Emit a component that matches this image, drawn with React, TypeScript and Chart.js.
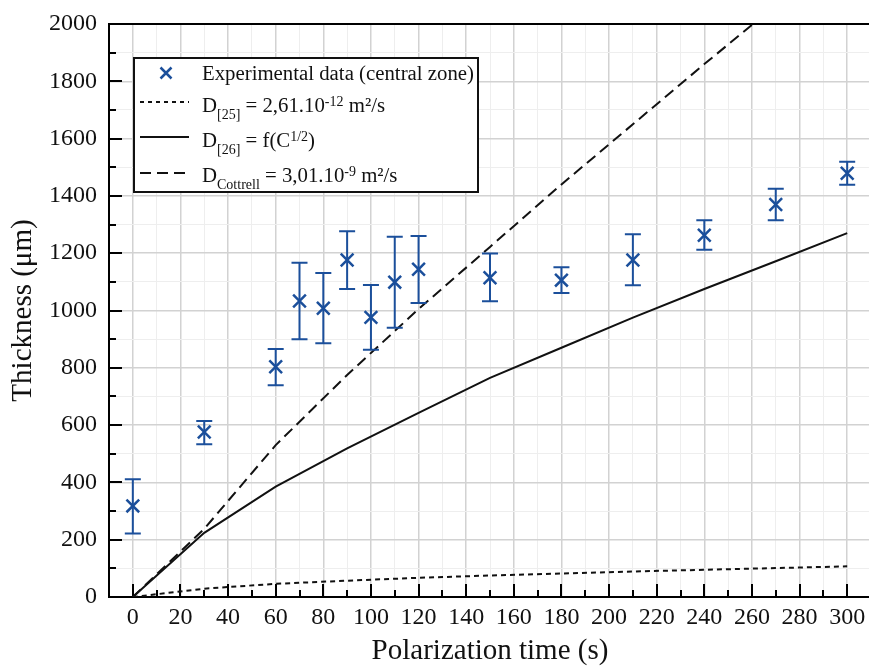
import { useEffect, useRef } from 'react';
import { Chart, registerables } from 'chart.js';

Chart.register(...registerables);

const FONT = "'Liberation Serif', 'Times New Roman', serif";
const BLUE = '#1b4f9b';
const INK = '#111111';

// Experimental data (central zone)
const times = [0, 30, 60, 70, 80, 90, 100, 110, 120, 150, 180, 210, 240, 270, 300];
const thickness = [318, 576, 804, 1033, 1008, 1176, 976, 1099, 1144, 1114, 1106, 1176, 1263, 1370, 1479];
const errLower = [222, 533, 739, 900, 886, 1075, 863, 940, 1026, 1032, 1061, 1088, 1212, 1315, 1439];
const errUpper = [411, 614, 866, 1167, 1131, 1277, 1089, 1257, 1260, 1199, 1151, 1266, 1315, 1425, 1519];

// Model curves
const modelTimes = [0, 30, 60, 90, 120, 150, 180, 210, 240, 270, 300];
const modelD25 = [0, 29, 46, 57, 67, 75, 82, 89, 95, 101, 107];
const modelD26 = [0, 224, 385, 519, 643, 765, 870, 975, 1075, 1172, 1270];
const modelCottrell = [0, 238, 530, 775, 1005, 1222, 1440, 1650, 1860, 2065, 2270];

// Axis
const xMin = -10;
const xMax = 310;
const yMin = 0;
const yMax = 2000;
const xTitle = 'Polarization time (s)';
const yTitle = 'Thickness (μm)';

// Legend texts (rich segments: n = normal, sub = subscript, sup = superscript)
type Seg = { t: string; k: 'n' | 'sub' | 'sup' };
const legendExp: Seg[] = [{ t: 'Experimental data (central zone)', k: 'n' }];
const legendD25: Seg[] = [
  { t: 'D', k: 'n' }, { t: '[25]', k: 'sub' }, { t: ' = 2,61.10', k: 'n' }, { t: '-12', k: 'sup' }, { t: ' m²/s', k: 'n' },
];
const legendD26: Seg[] = [
  { t: 'D', k: 'n' }, { t: '[26]', k: 'sub' }, { t: ' = f(C', k: 'n' }, { t: '1/2', k: 'sup' }, { t: ')', k: 'n' },
];
const legendCottrell: Seg[] = [
  { t: 'D', k: 'n' }, { t: 'Cottrell', k: 'sub' }, { t: ' = 3,01.10', k: 'n' }, { t: '-9', k: 'sup' }, { t: ' m²/s', k: 'n' },
];

function drawRich(ctx: CanvasRenderingContext2D, segs: Seg[], x: number, baseline: number) {
  let cx = x;
  ctx.textBaseline = 'alphabetic';
  ctx.textAlign = 'left';
  for (const s of segs) {
    const size = s.k === 'n' ? 20.8 : 14;
    ctx.font = `${size}px ${FONT}`;
    const dy = s.k === 'sub' ? 6.5 : s.k === 'sup' ? -6 : 0;
    ctx.fillText(s.t, cx, baseline + dy);
    cx += ctx.measureText(s.t).width;
  }
}

const axisDecor = {
  id: 'axisDecor',
  beforeDatasetsDraw(chart: any) {
    const { ctx, chartArea: a, scales } = chart;
    const x = scales.x;
    const y = scales.y;
    ctx.save();
    ctx.strokeStyle = '#000';
    ctx.lineWidth = 2;
    x.ticks.forEach((t: any) => {
      if (t.value < 0 || t.value > 300) return;
      const px = Math.round(x.getPixelForValue(t.value));
      const len = t.value % 20 === 0 ? 13 : 7;
      ctx.beginPath();
      ctx.moveTo(px, a.bottom);
      ctx.lineTo(px, a.bottom - len);
      ctx.stroke();
    });
    y.ticks.forEach((t: any) => {
      if (t.value <= yMin || t.value >= yMax) return;
      const py = Math.round(y.getPixelForValue(t.value));
      const len = t.value % 200 === 0 ? 13 : 7;
      ctx.beginPath();
      ctx.moveTo(a.left, py);
      ctx.lineTo(a.left + len, py);
      ctx.stroke();
    });
    ctx.beginPath();
    ctx.moveTo(a.left - 1, a.top);
    ctx.lineTo(a.right, a.top);
    ctx.stroke();
    ctx.restore();
  },
};

const errorBars = {
  id: 'errorBars',
  afterDatasetsDraw(chart: any) {
    const { ctx, scales } = chart;
    const x = scales.x;
    const y = scales.y;
    ctx.save();
    ctx.strokeStyle = BLUE;
    ctx.lineWidth = 2;
    times.forEach((t, i) => {
      const px = x.getPixelForValue(t);
      const top = y.getPixelForValue(errUpper[i]);
      const bot = y.getPixelForValue(errLower[i]);
      ctx.beginPath();
      ctx.moveTo(px, top);
      ctx.lineTo(px, bot);
      ctx.moveTo(px - 8, top);
      ctx.lineTo(px + 8, top);
      ctx.moveTo(px - 8, bot);
      ctx.lineTo(px + 8, bot);
      ctx.stroke();
    });
    ctx.restore();
  },
};

const customLegend = {
  id: 'customLegend',
  afterDraw(chart: any) {
    const { ctx } = chart;
    ctx.save();
    const bx = 134, by = 58, bw = 344, bh = 134;
    ctx.fillStyle = '#ffffff';
    ctx.fillRect(bx, by, bw, bh);
    ctx.strokeStyle = '#111';
    ctx.lineWidth = 2;
    ctx.strokeRect(bx, by, bw, bh);

    // marker
    ctx.strokeStyle = BLUE;
    ctx.lineWidth = 2.5;
    const mx = 166, my = 73, h = 5.5;
    ctx.beginPath();
    ctx.moveTo(mx - h, my - h);
    ctx.lineTo(mx + h, my + h);
    ctx.moveTo(mx + h, my - h);
    ctx.lineTo(mx - h, my + h);
    ctx.stroke();

    const lineRow = (yy: number, dash: number[]) => {
      ctx.strokeStyle = INK;
      ctx.lineWidth = 2;
      ctx.setLineDash(dash);
      ctx.beginPath();
      ctx.moveTo(140, yy);
      ctx.lineTo(189, yy);
      ctx.stroke();
      ctx.setLineDash([]);
    };
    lineRow(102, [4, 4]);
    lineRow(137, []);
    lineRow(173, [11, 6]);

    ctx.fillStyle = INK;
    drawRich(ctx, legendExp, 202, 80);
    drawRich(ctx, legendD25, 202, 112);
    drawRich(ctx, legendD26, 202, 147);
    drawRich(ctx, legendCottrell, 202, 182);
    ctx.restore();
  },
};

export default function App() {
  const ref = useRef<HTMLCanvasElement>(null);

  useEffect(() => {
    const canvas = ref.current;
    if (!canvas) return;
    const chart = new Chart(canvas, {
      type: 'line',
      data: {
        datasets: [
          {
            label: 'Experimental data (central zone)',
            data: times.map((t, i) => ({ x: t, y: thickness[i] })),
            showLine: false,
            pointStyle: 'crossRot',
            pointRadius: 9,
            pointBorderWidth: 2.5,
            pointBorderColor: BLUE,
            pointBackgroundColor: BLUE,
            borderColor: BLUE,
            backgroundColor: BLUE,
          },
          {
            label: 'D[25] = 2,61.10-12 m²/s',
            data: modelTimes.map((t, i) => ({ x: t, y: modelD25[i] })),
            borderColor: INK,
            borderWidth: 2,
            borderDash: [5, 4],
            pointRadius: 0,
            tension: 0,
            fill: false,
          },
          {
            label: 'D[26] = f(C1/2)',
            data: modelTimes.map((t, i) => ({ x: t, y: modelD26[i] })),
            borderColor: INK,
            borderWidth: 2,
            pointRadius: 0,
            tension: 0,
            fill: false,
          },
          {
            label: 'DCottrell = 3,01.10-9 m²/s',
            data: modelTimes.map((t, i) => ({ x: t, y: modelCottrell[i] })),
            borderColor: INK,
            borderWidth: 2,
            borderDash: [11, 6],
            pointRadius: 0,
            tension: 0,
            fill: false,
          },
        ],
      },
      options: {
        animation: false,
        responsive: false,
        events: [],
        layout: { padding: { top: 23, right: 29, left: 0, bottom: 0 } },
        plugins: {
          legend: { display: false },
          tooltip: { enabled: false },
        },
        scales: {
          x: {
            type: 'linear',
            min: xMin,
            max: xMax,
            ticks: {
              stepSize: 10,
              autoSkip: false,
              maxRotation: 0,
              padding: 9,
              color: INK,
              font: { family: FONT, size: 24, lineHeight: 1 },
              callback: (v: any) => (v % 20 === 0 && v >= 0 && v <= 300 ? String(v) : ''),
            },
            grid: {
              drawTicks: false,
              color: (c: any) => (c.tick && c.tick.value % 20 === 0 ? '#d2d2d2' : '#eeeeee'),
              lineWidth: (c: any) => (c.tick && c.tick.value % 20 === 0 ? 1.5 : 1),
            },
            border: { color: '#000', width: 2 },
            title: {
              display: true,
              text: xTitle,
              color: INK,
              font: { family: FONT, size: 29, lineHeight: 1 },
              padding: { top: 0, bottom: 1 },
            },
            afterFit: (s: any) => {
              s.height = 70;
            },
          },
          y: {
            type: 'linear',
            min: yMin,
            max: yMax,
            ticks: {
              stepSize: 100,
              autoSkip: false,
              padding: 12,
              color: INK,
              font: { family: FONT, size: 24, lineHeight: 1 },
              callback: (v: any) => (v % 200 === 0 ? String(v) : ''),
            },
            grid: {
              drawTicks: false,
              color: (c: any) => (c.tick && c.tick.value % 200 === 0 ? '#d2d2d2' : '#eeeeee'),
              lineWidth: (c: any) => (c.tick && c.tick.value % 200 === 0 ? 1.5 : 1),
            },
            border: { color: '#000', width: 2 },
            title: {
              display: true,
              text: yTitle,
              color: INK,
              font: { family: FONT, size: 29, lineHeight: 1 },
              padding: { top: 9, bottom: 0 },
            },
            afterFit: (s: any) => {
              s.width = 109;
            },
          },
        },
      } as any,
      plugins: [axisDecor, errorBars, customLegend],
    });
    return () => chart.destroy();
  }, []);

  return (
    <div
      style={{
        position: 'fixed',
        left: 0,
        top: 0,
        width: 869,
        height: 667,
        overflow: 'hidden',
        background: '#ffffff',
      }}
    >
      <canvas ref={ref} width={900} height={667} style={{ display: 'block', width: 900, height: 667 }} />
    </div>
  );
}
